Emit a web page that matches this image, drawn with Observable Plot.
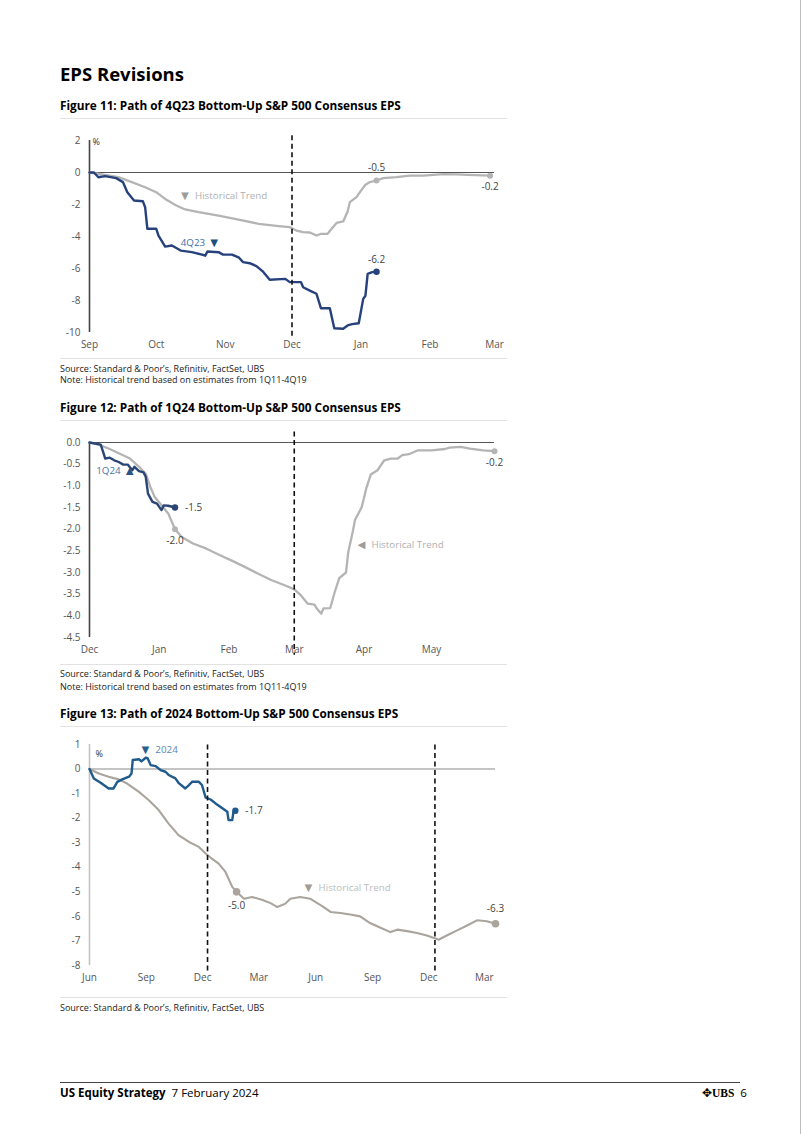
<!DOCTYPE html>
<html>
<head>
<meta charset="utf-8">
<script src="https://cdn.jsdelivr.net/npm/d3@7"></script>
<script src="https://cdn.jsdelivr.net/npm/@observablehq/plot@0.6"></script>
<style>
  html,body{margin:0;padding:0;background:#fff;}
  #page{position:relative;width:802px;height:1134px;overflow:hidden;font-family:"Open Sans",sans-serif;color:#000;}
  .t{position:absolute;white-space:nowrap;line-height:1;}
  .h1{left:60px;font-size:18.5px;font-weight:700;}
  .fig{left:60px;font-size:11.8px;font-weight:700;}
  .src{left:60px;font-size:9px;color:#222;}
  .hr{position:absolute;left:60px;width:447px;height:1px;background:#e2e2e2;}
  .chart{position:absolute;left:55px;}
  .foot{font-size:11.5px;}
</style>
</head>
<body>
<div id="page">
  <div class="t h1" style="top:64.5px">EPS Revisions</div>

  <div class="t fig" style="top:99.6px">Figure 11: Path of 4Q23 Bottom-Up S&amp;P 500 Consensus EPS</div>
  <div class="hr" style="top:118px"></div>
  <div class="chart" id="c1" style="top:130px"></div>
  <div class="hr" style="top:358px"></div>
  <div class="t src" style="top:364px">Source: Standard &amp; Poor’s, Refinitiv, FactSet, UBS</div>
  <div class="t src" style="top:375px">Note: Historical trend based on estimates from 1Q11-4Q19</div>

  <div class="t fig" style="top:401.6px">Figure 12: Path of 1Q24 Bottom-Up S&amp;P 500 Consensus EPS</div>
  <div class="hr" style="top:420px"></div>
  <div class="chart" id="c2" style="top:432px"></div>
  <div class="hr" style="top:664px"></div>
  <div class="t src" style="top:669px">Source: Standard &amp; Poor’s, Refinitiv, FactSet, UBS</div>
  <div class="t src" style="top:682px">Note: Historical trend based on estimates from 1Q11-4Q19</div>

  <div class="t fig" style="top:707.6px">Figure 13: Path of 2024 Bottom-Up S&amp;P 500 Consensus EPS</div>
  <div class="hr" style="top:726px"></div>
  <div class="chart" id="c3" style="top:734px"></div>
  <div class="hr" style="top:997px"></div>
  <div class="t src" style="top:1003px">Source: Standard &amp; Poor’s, Refinitiv, FactSet, UBS</div>

  <div style="position:absolute;left:60px;top:1082px;width:680px;height:1px;background:#444"></div>
  <div class="t foot" style="left:60px;top:1086.8px"><b>US Equity Strategy</b>&nbsp;&nbsp;7 February 2024</div>
  <div class="t foot" style="left:702px;top:1086.8px"><span style="font-size:12px">✥</span><span style="font-family:'Liberation Serif',serif;font-weight:700">UBS</span>&nbsp;&nbsp;6</div>
  <div style="position:absolute;left:800px;top:0;width:1px;height:1134px;background:#bdbdbd"></div>
</div>
<script>
// ---------- DATA ----------
// Figure 11: 4Q23 estimate path and historical trend (% change in EPS)
const fig11Ticks = ["2023-09-01","2023-10-01","2023-11-01","2023-12-01","2024-01-01","2024-02-01","2024-03-01"];
const fig11YTicks = [2, 0, -2, -4, -6, -8, -10];
const fig11Est = [
  ["2023-09-01",0],["2023-09-03",0],["2023-09-05",-0.3],["2023-09-08",-0.23],["2023-09-13",-0.35],
  ["2023-09-16",-0.6],["2023-09-18",-1.23],["2023-09-21",-1.75],["2023-09-25",-1.8],["2023-09-26",-2.17],
  ["2023-09-27",-3.52],["2023-10-01",-3.52],["2023-10-02",-3.94],["2023-10-05",-4.63],["2023-10-08",-4.56],
  ["2023-10-12",-4.88],["2023-10-17",-4.98],["2023-10-22",-5.15],["2023-10-23",-5.2],["2023-10-24",-4.94],
  ["2023-10-29",-4.98],["2023-10-31",-5.13],["2023-11-04",-5.13],["2023-11-07",-5.3],["2023-11-09",-5.6],
  ["2023-11-12",-5.67],["2023-11-15",-5.85],["2023-11-18",-6.2],["2023-11-21",-6.7],["2023-11-28",-6.65],
  ["2023-11-30",-6.85],["2023-12-05",-6.85],["2023-12-06",-7.17],["2023-12-09",-7.38],["2023-12-12",-7.58],
  ["2023-12-14",-8.48],["2023-12-18",-8.48],["2023-12-20",-9.73],["2023-12-24",-9.77],["2023-12-26",-9.56],
  ["2023-12-28",-9.48],["2023-12-31",-9.42],["2024-01-02",-7.9],["2024-01-03",-7.7],["2024-01-04",-6.33],
  ["2024-01-06",-6.23],["2024-01-08",-6.2]
];
const fig11Hist = [
  ["2023-09-01",0],["2023-09-08",-0.15],["2023-09-14",-0.29],["2023-09-20",-0.6],["2023-09-26",-0.92],
  ["2023-10-01",-1.23],["2023-10-05",-1.65],["2023-10-10",-2.06],["2023-10-14",-2.31],["2023-10-20",-2.48],
  ["2023-10-29",-2.69],["2023-11-07",-2.94],["2023-11-16",-3.21],["2023-11-25",-3.35],["2023-11-30",-3.42],
  ["2023-12-03",-3.63],["2023-12-06",-3.73],["2023-12-09",-3.75],["2023-12-12",-3.94],["2023-12-14",-3.83],
  ["2023-12-17",-3.83],["2023-12-19",-3.48],["2023-12-21",-3.15],["2023-12-24",-3.06],["2023-12-26",-2.44],
  ["2023-12-27",-1.85],["2023-12-30",-1.54],["2024-01-01",-1.13],["2024-01-03",-0.77],["2024-01-05",-0.6],
  ["2024-01-08",-0.5],["2024-01-11",-0.35],["2024-01-17",-0.29],["2024-01-23",-0.19],["2024-01-29",-0.19],
  ["2024-02-07",-0.1],["2024-02-13",-0.12],["2024-02-18",-0.15],["2024-02-28",-0.2]
];

// Figure 12: 1Q24
const fig12Ticks = ["2023-12-01","2024-01-01","2024-02-01","2024-03-01","2024-04-01","2024-05-01"];
const fig12YTicks = [0, -0.5, -1, -1.5, -2, -2.5, -3, -3.5, -4, -4.5];
const fig12Est = [
  ["2023-12-01",0],["2023-12-06",-0.05],["2023-12-08",-0.37],["2023-12-10",-0.35],["2023-12-12",-0.41],
  ["2023-12-14",-0.45],["2023-12-16",-0.51],["2023-12-18",-0.51],["2023-12-20",-0.64],["2023-12-21",-0.56],
  ["2023-12-23",-0.66],["2023-12-25",-0.69],["2023-12-26",-0.79],["2023-12-27",-1.18],["2023-12-29",-1.37],
  ["2023-12-31",-1.41],["2024-01-02",-1.56],["2024-01-03",-1.45],["2024-01-05",-1.46],["2024-01-08",-1.5]
];
const fig12Hist = [
  ["2023-12-01",0],["2023-12-05",-0.05],["2023-12-10",-0.15],["2023-12-14",-0.25],["2023-12-19",-0.37],
  ["2023-12-23",-0.56],["2023-12-26",-0.72],["2023-12-28",-1.02],["2023-12-30",-1.26],["2024-01-02",-1.45],
  ["2024-01-05",-1.64],["2024-01-08",-2.0],["2024-01-11",-2.18],["2024-01-16",-2.33],["2024-01-22",-2.45],
  ["2024-01-28",-2.6],["2024-02-02",-2.72],["2024-02-08",-2.87],["2024-02-14",-3.03],["2024-02-20",-3.18],
  ["2024-02-26",-3.3],["2024-03-01",-3.39],["2024-03-04",-3.53],["2024-03-07",-3.72],["2024-03-10",-3.74],
  ["2024-03-11",-3.83],["2024-03-13",-3.95],["2024-03-14",-3.83],["2024-03-17",-3.82],["2024-03-19",-3.45],
  ["2024-03-21",-3.13],["2024-03-24",-3.0],["2024-03-25",-2.53],["2024-03-27",-2.06],["2024-03-28",-1.79],
  ["2024-03-31",-1.49],["2024-04-02",-1.06],["2024-04-04",-0.74],["2024-04-07",-0.64],["2024-04-10",-0.41],
  ["2024-04-13",-0.37],["2024-04-16",-0.37],["2024-04-18",-0.29],["2024-04-21",-0.27],["2024-04-25",-0.18],
  ["2024-05-01",-0.18],["2024-05-07",-0.15],["2024-05-09",-0.12],["2024-05-14",-0.1],["2024-05-18",-0.14],
  ["2024-05-24",-0.18],["2024-05-29",-0.2]
];

// Figure 13: calendar 2024
const fig13Ticks = ["2023-06-01","2023-09-01","2023-12-01","2024-03-01","2024-06-01","2024-09-01","2024-12-01","2025-03-01"];
const fig13YTicks = [1, 0, -1, -2, -3, -4, -5, -6, -7, -8];
const fig13Est = [
  ["2023-06-01",0],["2023-06-08",-0.38],["2023-06-19",-0.56],["2023-07-02",-0.79],["2023-07-10",-0.79],
  ["2023-07-16",-0.52],["2023-07-24",-0.42],["2023-08-04",-0.31],["2023-08-08",-0.18],["2023-08-10",0.37],
  ["2023-08-20",0.4],["2023-08-24",0.31],["2023-08-31",0.46],["2023-09-03",0.44],["2023-09-08",0.16],
  ["2023-09-16",0.12],["2023-09-24",-0.04],["2023-10-02",-0.11],["2023-10-07",-0.24],["2023-10-18",-0.38],
  ["2023-10-23",-0.56],["2023-11-03",-0.79],["2023-11-09",-0.65],["2023-11-14",-0.52],["2023-11-25",-0.52],
  ["2023-11-30",-0.65],["2023-12-06",-1.16],["2023-12-14",-1.24],["2023-12-22",-1.4],["2024-01-02",-1.6],
  ["2024-01-10",-1.74],["2024-01-12",-2.08],["2024-01-18",-2.08],["2024-01-20",-1.74],["2024-01-23",-1.7]
];
const fig13Hist = [
  ["2023-06-01",0],["2023-06-16",-0.18],["2023-07-02",-0.31],["2023-07-18",-0.42],["2023-08-01",-0.59],
  ["2023-08-20",-0.93],["2023-09-05",-1.27],["2023-09-21",-1.67],["2023-10-07",-2.22],["2023-10-23",-2.69],
  ["2023-11-09",-2.97],["2023-11-25",-3.17],["2023-12-06",-3.44],["2023-12-16",-3.65],["2023-12-27",-3.85],
  ["2024-01-07",-4.19],["2024-01-18",-4.8],["2024-01-25",-5.0],["2024-02-06",-5.28],["2024-02-19",-5.21],
  ["2024-03-06",-5.32],["2024-03-20",-5.46],["2024-03-31",-5.62],["2024-04-13",-5.48],["2024-04-21",-5.28],
  ["2024-05-07",-5.21],["2024-05-23",-5.28],["2024-06-14",-5.62],["2024-06-25",-5.82],["2024-07-11",-5.86],
  ["2024-07-27",-5.92],["2024-08-12",-6.0],["2024-08-28",-6.27],["2024-09-14",-6.46],["2024-09-30",-6.64],
  ["2024-10-11",-6.54],["2024-10-27",-6.6],["2024-11-12",-6.68],["2024-11-28",-6.78],["2024-12-13",-6.91],
  ["2024-12-17",-6.95],["2024-12-30",-6.78],["2025-01-16",-6.57],["2025-02-01",-6.37],["2025-02-17",-6.16],
  ["2025-03-05",-6.2],["2025-03-19",-6.3]
];

// ---------- DRAWING ----------
const FONT = "'Open Sans', sans-serif";
const parse = s => new Date(s + "T00:00:00Z");
const toRows = pairs => pairs.map(([d, v]) => ({date: parse(d), v}));
const ctx = document.createElement("canvas").getContext("2d");
function textW(t, size) { ctx.font = `${size}px "Open Sans"`; return ctx.measureText(t).width; }

function buildChart(cfg) {
  const est = toRows(cfg.est), hist = toRows(cfg.hist);
  const x0 = parse(cfg.xDomain[0]), x1 = parse(cfg.xDomain[1]);
  const estLast = est[est.length - 1];
  const histLast = hist[hist.length - 1];
  const histMark = hist.find(d => +d.date === +parse(cfg.histMarkDate));
  const pts = {estLast, histLast, histMark};
  const marks = [
    Plot.ruleY([0], {x1: x0, x2: x1, stroke: cfg.zeroStroke, strokeWidth: cfg.zeroWidth}),
    Plot.ruleX([x0], {y1: cfg.yDomain[1], y2: cfg.yDomain[0], stroke: cfg.axisStroke, strokeWidth: 1.6}),
    Plot.axisX({ticks: cfg.xTicks.map(parse), tickFormat: d3.utcFormat("%b"), tickSize: 0, tickPadding: 8, label: null, fill: "#555"}),
    Plot.axisY({ticks: cfg.yTicks, tickFormat: cfg.yFormat, tickSize: 0, tickPadding: 9, label: null, fill: "#555"}),
    Plot.lineY(hist, {x: "date", y: "v", stroke: cfg.histColor, strokeWidth: cfg.histWidth}),
    Plot.lineY(est, {x: "date", y: "v", stroke: cfg.estColor, strokeWidth: 2.4}),
    ...cfg.dashes.map(d => Plot.ruleX([parse(d)], {y1: cfg.dashY[0], y2: cfg.dashY[1], stroke: "#111", strokeWidth: 1.6, strokeDasharray: "5,3.5"})),
    Plot.dot([histMark, histLast], {x: "date", y: "v", r: cfg.histR, fill: cfg.histColor}),
    Plot.dot([estLast], {x: "date", y: "v", r: 3.2, fill: cfg.estColor})
  ];
  cfg.valueLabels.forEach(l => {
    const p = pts[l.pt];
    marks.push(Plot.text([p], {x: "date", y: "v", text: d => d.v.toFixed(1), textAnchor: l.anchor, dx: l.dx, dy: l.dy, fill: "#444", fontSize: 10}));
  });
  cfg.notes.forEach(n => {
    let off = 0;
    const p = {date: parse(n.date), v: n.v};
    n.parts.forEach(part => {
      const size = part.tri ? 13 : 9.8;
      marks.push(Plot.text([p], {x: "date", y: "v", text: () => part.text, textAnchor: "start", dx: off, fill: part.color, fontSize: size}));
      off += textW(part.text, size) + (part.tri ? 1 : 0);
    });
  });
  if (cfg.pct) marks.push(Plot.text(["%"], {frameAnchor: "top-left", textAnchor: "start", dx: cfg.pct[0], dy: cfg.pct[1], fill: "#333", fontSize: 9}));
  const chart = Plot.plot({
    width: 460, height: cfg.height,
    marginLeft: 34, marginRight: cfg.marginRight, marginTop: 10, marginBottom: 20,
    style: {fontFamily: FONT, fontSize: "10px", background: "transparent", overflow: "visible"},
    x: {type: "utc", domain: [x0, x1]},
    y: {domain: cfg.yDomain},
    marks
  });
  document.getElementById(cfg.id).appendChild(chart);
}

const GRAY = "#b4b4b4", GRAYTXT = "#b0b0b0", GRAYTRI = "#9c9c9c";

buildChart({
  id: "c1", height: 222, marginRight: 21,
  xDomain: ["2023-09-01", "2024-03-01"], xTicks: fig11Ticks,
  yDomain: [-10, 2], yTicks: fig11YTicks, yFormat: d => String(d),
  est: fig11Est, hist: fig11Hist, histMarkDate: "2024-01-08",
  estColor: "#27417c", histColor: GRAY, histWidth: 2.3, histR: 3,
  zeroStroke: "#555", zeroWidth: 1.2, axisStroke: "#444",
  dashes: ["2023-12-01"], dashY: [2.3, -10.4],
  valueLabels: [
    {pt: "estLast", anchor: "middle", dx: 0, dy: -12},
    {pt: "histMark", anchor: "middle", dx: 0, dy: -13},
    {pt: "histLast", anchor: "middle", dx: 0, dy: 11}
  ],
  notes: [
    {date: "2023-10-11", v: -1.46, parts: [{text: "▼", color: GRAYTRI, tri: true}, {text: " Historical Trend", color: GRAYTXT}]},
    {date: "2023-10-12", v: -4.38, parts: [{text: "4Q23 ", color: "#3f6fa5"}, {text: "▼", color: "#1d4f80", tri: true}]}
  ],
  pct: [3, -2]
});

buildChart({
  id: "c2", height: 225, marginRight: 21,
  xDomain: ["2023-12-01", "2024-05-29"], xTicks: fig12Ticks,
  yDomain: [-4.5, 0], yTicks: fig12YTicks, yFormat: d => d.toFixed(1),
  est: fig12Est, hist: fig12Hist, histMarkDate: "2024-01-08",
  estColor: "#2b4675", histColor: GRAY, histWidth: 2.3, histR: 3,
  zeroStroke: "#555", zeroWidth: 1.2, axisStroke: "#444",
  dashes: ["2024-03-01"], dashY: [0.24, -4.91],
  valueLabels: [
    {pt: "estLast", anchor: "start", dx: 10, dy: 0},
    {pt: "histMark", anchor: "middle", dx: 0, dy: 12},
    {pt: "histLast", anchor: "middle", dx: 0, dy: 12}
  ],
  notes: [
    {date: "2023-12-04", v: -0.66, parts: [{text: "1Q24 ", color: "#4a76a8"}, {text: "▲", color: "#2a5585", tri: true}]},
    {date: "2024-03-28", v: -2.37, parts: [{text: "◄", color: GRAYTRI, tri: true}, {text: " Historical Trend", color: GRAYTXT}]}
  ],
  pct: null
});

buildChart({
  id: "c3", height: 251, marginRight: 20,
  xDomain: ["2023-06-01", "2025-03-19"], xTicks: fig13Ticks,
  yDomain: [-8, 1], yTicks: fig13YTicks, yFormat: d => String(d),
  est: fig13Est, hist: fig13Hist, histMarkDate: "2024-01-25",
  estColor: "#1f5b8d", histColor: "#aaa49d", histWidth: 2.1, histR: 3.8,
  zeroStroke: "#b0b0b0", zeroWidth: 1.6, axisStroke: "#c4c4c4",
  dashes: ["2023-12-09", "2024-12-11"], dashY: [0.98, -8.33],
  valueLabels: [
    {pt: "estLast", anchor: "start", dx: 10, dy: 0},
    {pt: "histMark", anchor: "middle", dx: 0, dy: 14},
    {pt: "histLast", anchor: "middle", dx: 0, dy: -15}
  ],
  notes: [
    {date: "2023-08-20", v: 0.8, parts: [{text: "▼", color: "#2a5f90", tri: true}, {text: " 2024", color: "#5a86b8"}]},
    {date: "2024-05-10", v: -4.84, parts: [{text: "▼", color: "#a39b94", tri: true}, {text: " Historical Trend", color: "#bdbdbd"}]}
  ],
  pct: [6, 6]
});
</script>
</body>
</html>
